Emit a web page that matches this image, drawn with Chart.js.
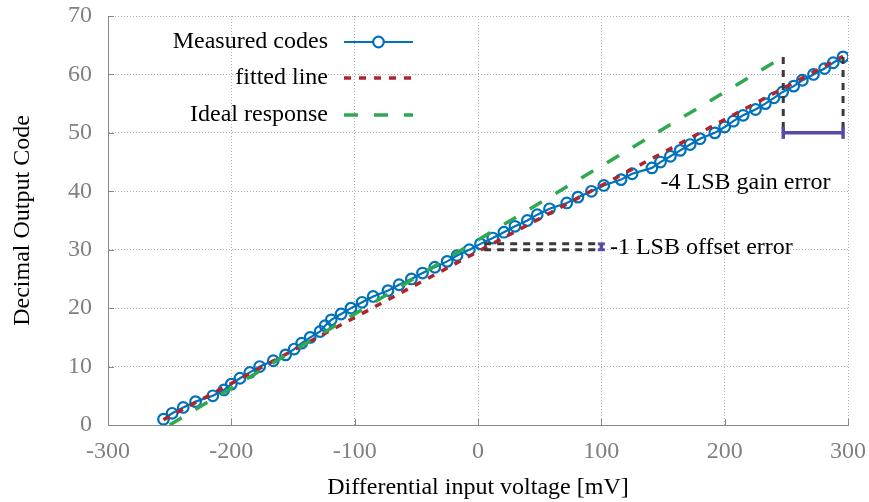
<!DOCTYPE html>
<html>
<head>
<meta charset="utf-8">
<script src="https://cdn.jsdelivr.net/npm/chart.js@4"></script>
<style>
  html, body { margin: 0; padding: 0; background: #fff; }
  #wrap { width: 869px; height: 502px; }
</style>
</head>
<body>
<div id="wrap"><canvas id="adc" width="869" height="502"></canvas></div>
<script>
// ADC transfer characteristic: measured codes vs. input voltage
const inputMv = [
  -255, -248, -239, -229, -215, -206, -200, -193, -185, -177,
  -166, -156, -149, -143, -136, -128, -124, -119, -111, -103,
  -94, -85, -73, -64, -54, -45, -35, -25, -17, -7,
  2, 12, 21, 30, 40, 48, 58, 72, 81, 92,
  102, 116, 125, 141, 148, 156, 164, 172, 180, 192,
  200, 207, 215, 225, 233, 240, 247, 256, 263, 272,
  281, 288, 296
];
const outputCodes = [
  1, 2, 3, 4, 5, 6, 7, 8, 9, 10,
  11, 12, 13, 14, 15, 16, 17, 18, 19, 20,
  21, 22, 23, 24, 25, 26, 27, 28, 29, 30,
  31, 32, 33, 34, 35, 36, 37, 38, 39, 40,
  41, 42, 43, 44, 45, 46, 47, 48, 49, 50,
  51, 52, 53, 54, 55, 56, 57, 58, 59, 60,
  61, 62, 63
];

// least-squares fit and ideal response, as end points
const fitMv = [-255, 296];
const fitCodes = [0.9, 63.1];
const idealMv = [-250, 247.5];
const idealCodes = [0, 63];

// error markers
const gainMarkMv = [247.5, 296];
const gainMarkTop = 63;
const gainMarkBottom = 50;
const offsetMarkMv = [5, 98];
const offsetBarMv = 100;
const offsetCodes = [30, 31];

const xTicks = [-300, -200, -100, 0, 100, 200, 300];
const yTicks = [0, 10, 20, 30, 40, 50, 60, 70];

const SERIF = '"Liberation Serif", "Times New Roman", serif';
const FONT_SIZE = 24;
const BLUE = '#0072bd';
const RED = '#b0242c';
const GREEN = '#2fa84f';
const DARK = '#3a3a3a';
const PURPLE = '#5a4aa6';
const AXIS = '#888888';

const pts = (xs, ys) => xs.map((x, i) => ({ x: x, y: ys[i] }));

const gainLines = [
  { x: gainMarkMv[0], y: gainMarkTop }, { x: gainMarkMv[0], y: gainMarkBottom },
  { x: (gainMarkMv[0] + gainMarkMv[1]) / 2, y: null },
  { x: gainMarkMv[1], y: gainMarkTop }, { x: gainMarkMv[1], y: gainMarkBottom }
];
const offsetLines = [
  { x: offsetMarkMv[0], y: offsetCodes[1] }, { x: offsetMarkMv[1], y: offsetCodes[1] },
  { x: offsetMarkMv[1], y: null },
  { x: offsetMarkMv[0], y: offsetCodes[0] }, { x: offsetMarkMv[1], y: offsetCodes[0] }
];

const notes = [
  { text: '-1 LSB offset error', x: 107, y: 30.4 },
  { text: '-4 LSB gain error', x: 148, y: 41.5 }
];

const legendRows = [
  { label: 'Measured codes', ds: 0, y: 42 },
  { label: 'fitted line', ds: 1, y: 78 },
  { label: 'Ideal response', ds: 2, y: 115 }
];

// inward tick marks on the left and bottom axes
const innerTicks = {
  id: 'innerTicks',
  afterDatasetsDraw(chart) {
    const { ctx, chartArea: a, scales: { x, y } } = chart;
    ctx.save();
    ctx.strokeStyle = AXIS;
    ctx.lineWidth = 1;
    ctx.beginPath();
    xTicks.forEach(v => {
      const px = Math.round(x.getPixelForValue(v)) + 0.5;
      ctx.moveTo(px, a.bottom); ctx.lineTo(px, a.bottom - 6);
    });
    yTicks.forEach(v => {
      const py = Math.round(y.getPixelForValue(v)) + 0.5;
      ctx.moveTo(a.left, py); ctx.lineTo(a.left + 6, py);
    });
    ctx.stroke();
    ctx.restore();
  }
};

const noteLabels = {
  id: 'noteLabels',
  afterDatasetsDraw(chart) {
    const { ctx, scales: { x, y } } = chart;
    ctx.save();
    ctx.font = FONT_SIZE + 'px ' + SERIF;
    ctx.fillStyle = '#000';
    ctx.textAlign = 'left';
    ctx.textBaseline = 'middle';
    notes.forEach(n => ctx.fillText(n.text, x.getPixelForValue(n.x), y.getPixelForValue(n.y)));
    ctx.restore();
  }
};

// key: label right-aligned, line sample to its right
const sideLegend = {
  id: 'sideLegend',
  afterDraw(chart) {
    const ctx = chart.ctx;
    const textRight = 328, x0 = 344, x1 = 413;
    ctx.save();
    ctx.font = FONT_SIZE + 'px ' + SERIF;
    ctx.fillStyle = '#000';
    ctx.textAlign = 'right';
    ctx.textBaseline = 'middle';
    legendRows.forEach(row => {
      const ds = chart.data.datasets[row.ds];
      ctx.fillText(row.label, textRight, row.y);
      ctx.save();
      ctx.strokeStyle = ds.borderColor;
      ctx.lineWidth = ds.borderWidth;
      ctx.setLineDash(ds.borderDash || []);
      ctx.beginPath();
      ctx.moveTo(x0, row.y); ctx.lineTo(x1, row.y);
      ctx.stroke();
      if (ds.pointRadius) {
        ctx.setLineDash([]);
        ctx.lineWidth = ds.pointBorderWidth;
        ctx.fillStyle = '#fff';
        ctx.beginPath();
        ctx.arc((x0 + x1) / 2, row.y, ds.pointRadius, 0, Math.PI * 2);
        ctx.fill();
        ctx.stroke();
      }
      ctx.restore();
    });
    ctx.restore();
  }
};

Chart.defaults.font.family = SERIF;
Chart.defaults.font.size = FONT_SIZE;

new Chart(document.getElementById('adc'), {
  type: 'line',
  data: {
    datasets: [
      {
        label: 'Measured codes',
        data: pts(inputMv, outputCodes),
        borderColor: BLUE,
        borderWidth: 2.2,
        pointRadius: 5.3,
        pointBorderWidth: 2.2,
        pointBorderColor: BLUE,
        pointBackgroundColor: 'rgba(255,255,255,0)',
        order: 5
      },
      {
        label: 'fitted line',
        data: pts(fitMv, fitCodes),
        borderColor: RED,
        borderWidth: 3.5,
        borderDash: [7, 8],
        pointRadius: 0,
        order: 4
      },
      {
        label: 'Ideal response',
        data: pts(idealMv, idealCodes),
        borderColor: GREEN,
        borderWidth: 3.5,
        borderDash: [14, 16],
        pointRadius: 0,
        order: 3
      },
      {
        label: 'gain guides',
        data: gainLines,
        borderColor: DARK,
        borderWidth: 3,
        borderDash: [7, 6],
        pointRadius: 0,
        spanGaps: false,
        order: 2
      },
      {
        label: 'offset guides',
        data: offsetLines,
        borderColor: DARK,
        borderWidth: 3,
        borderDash: [7, 6],
        pointRadius: 0,
        spanGaps: false,
        order: 2
      },
      {
        label: 'gain error',
        data: pts(gainMarkMv, [gainMarkBottom, gainMarkBottom]),
        borderColor: PURPLE,
        borderWidth: 3.5,
        pointStyle: 'line',
        pointRotation: 90,
        pointRadius: 6,
        pointBorderWidth: 3.5,
        order: 1
      },
      {
        label: 'offset error',
        data: pts([offsetBarMv, offsetBarMv], offsetCodes),
        borderColor: PURPLE,
        borderWidth: 3.5,
        pointStyle: 'line',
        pointRotation: 0,
        pointRadius: 3.5,
        pointBorderWidth: 3,
        order: 1
      }
    ]
  },
  options: {
    responsive: false,
    animation: false,
    events: [],
    layout: { padding: { top: 16, right: 21, left: 0, bottom: 0 } },
    plugins: {
      legend: { display: false },
      tooltip: { enabled: false }
    },
    scales: {
      x: {
        type: 'linear',
        min: -300,
        max: 300,
        afterFit: s => {
          s.height = 77;
          s.paddingLeft = 0;
          s.paddingRight = 0;
        },
        afterBuildTicks: s => { s.ticks = xTicks.map(v => ({ value: v })); },
        grid: { color: '#b0b0b0', lineWidth: 1, drawTicks: false },
        border: { display: true, color: AXIS, width: 1, dash: [1, 2] },
        ticks: { color: '#808080', padding: 12, maxRotation: 0, font: { size: FONT_SIZE } },
        title: {
          display: true,
          text: 'Differential input voltage [mV]',
          color: '#000',
          font: { size: FONT_SIZE },
          padding: { top: 0, bottom: 0 }
        }
      },
      y: {
        type: 'linear',
        min: 0,
        max: 70,
        afterFit: s => {
          s.width = 108;
          s.paddingTop = 0;
          s.paddingBottom = 0;
        },
        afterBuildTicks: s => { s.ticks = yTicks.map(v => ({ value: v })); },
        grid: { color: '#b0b0b0', lineWidth: 1, drawTicks: false },
        border: { display: true, color: AXIS, width: 1, dash: [1, 2] },
        ticks: { color: '#808080', padding: 16, font: { size: FONT_SIZE } },
        title: {
          display: true,
          text: 'Decimal Output Code',
          color: '#000',
          font: { size: FONT_SIZE },
          padding: { top: 8, bottom: 0 }
        }
      }
    }
  },
  plugins: [innerTicks, noteLabels, sideLegend]
});
</script>
</body>
</html>
